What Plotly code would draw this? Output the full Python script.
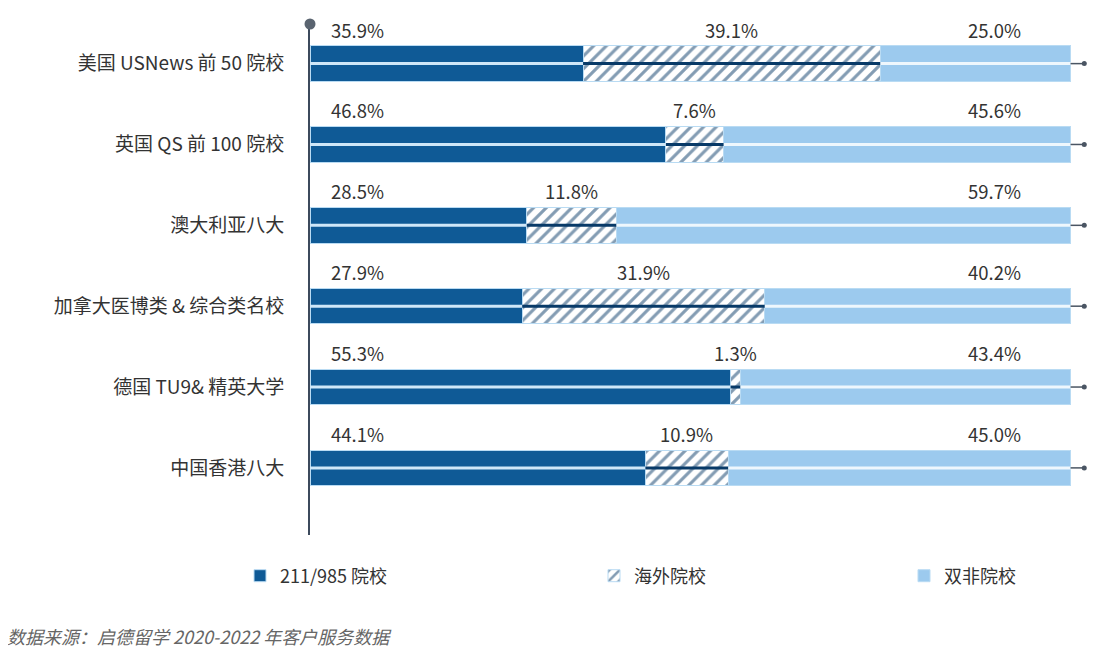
import plotly.graph_objects as go

# data
categories = ["美国 USNews 前 50 院校", "英国 QS 前 100 院校", "澳大利亚八大",
              "加拿大医博类 & 综合类名校", "德国 TU9& 精英大学", "中国香港八大"]
series_names = ["211/985 院校", "海外院校", "双非院校"]
top_schools = [35.9, 46.8, 28.5, 27.9, 55.3, 44.1]
overseas = [39.1, 7.6, 11.8, 31.9, 1.3, 10.9]
non_top = [25.0, 45.6, 59.7, 40.2, 43.4, 45.0]
source_note = "数据来源：启德留学 2020-2022 年客户服务数据"

DARK = "#0f5a96"
LIGHT = "#9ccaee"
HATCH = "#083a68"
AXIS = "#3c4a5c"
TEXT = "#333333"
FONT = "Noto Sans CJK SC"

# the page body has an 8px margin, so the figure is shifted by that much
OFF = 8
W, H = 1110 - OFF, 666 - OFF
L, R, T, B = 310 - OFF, 9, 24 - OFF, 131
PW, PH = W - L - R, H - T - B

fig = go.Figure()

# stacked bars
fig.add_trace(go.Bar(
    y=categories, x=top_schools, orientation="h", name=series_names[0], width=0.44,
    marker=dict(color=DARK, line=dict(color="#b9dbf3", width=1))))
fig.add_trace(go.Bar(
    y=categories, x=overseas, orientation="h", name=series_names[1], width=0.44,
    marker=dict(color="white", line=dict(color="#b9dbf3", width=1),
                pattern=dict(shape="/", fgcolor=HATCH, bgcolor="white", size=9, solidity=0.35))))
fig.add_trace(go.Bar(
    y=categories, x=non_top, orientation="h", name=series_names[2], width=0.44,
    legend="legend2",
    marker=dict(color=LIGHT, line=dict(color="#b9dbf3", width=1))))

# middle line running through each bar, coloured per segment
seg_colors = ["#cfe7f8", HATCH, "#eef7fd"]
all_series = [top_schools, overseas, non_top]
for k, vals in enumerate(all_series):
    xs, ys = [], []
    for i, cat in enumerate(categories):
        start = sum(s[i] for s in all_series[:k])
        xs += [start, start + vals[i], None]
        ys += [cat, cat, None]
    fig.add_trace(go.Scatter(x=xs, y=ys, mode="lines", line=dict(color=seg_colors[k], width=3),
                             showlegend=False, hoverinfo="skip"))

# tail with dot at the end of each bar
totals = [a + b + c for a, b, c in zip(top_schools, overseas, non_top)]
tx, ty = [], []
for cat, t in zip(categories, totals):
    tx += [t, t + 1.8, None]
    ty += [cat, cat, None]
fig.add_trace(go.Scatter(x=tx, y=ty, mode="lines", line=dict(color="#4a5563", width=1.5),
                         showlegend=False, hoverinfo="skip"))
fig.add_trace(go.Scatter(x=[t + 1.8 for t in totals], y=categories, mode="markers",
                         marker=dict(color="#4a5563", size=5), showlegend=False,
                         hoverinfo="skip", cliponaxis=False))

# dot on top of the axis
fig.add_shape(type="circle", xref="paper", yref="paper", xsizemode="pixel", ysizemode="pixel",
              xanchor=0, yanchor=1, x0=-5.5, x1=5.5, y0=-5.5, y1=5.5,
              fillcolor="#5a6470", line=dict(width=0))

# value labels above bars
annotations = []
for i, cat in enumerate(categories):
    lab = dict(y=cat, yshift=34, showarrow=False, font=dict(size=18.5, color=TEXT, family=FONT))
    annotations.append(dict(lab, x=0, xanchor="left", xshift=19, text=f"{top_schools[i]:.1f}%"))
    annotations.append(dict(lab, x=top_schools[i] + overseas[i] / 2, xanchor="center",
                            text=f"{overseas[i]:.1f}%"))
    annotations.append(dict(lab, x=100, xanchor="right", xshift=-48, text=f"{non_top[i]:.1f}%"))

annotations.append(dict(text=source_note, xref="paper", yref="paper", x=(5 - 310) / PW,
                        y=(H - B - (636 - OFF)) / PH, xanchor="left", yanchor="middle",
                        showarrow=False,
                        font=dict(size=18, color="#666666", family=FONT, style="italic")))

legend_style = dict(orientation="h", xref="container", yref="container",
                    y=1 - (576 - OFF) / H, xanchor="left", yanchor="middle",
                    entrywidth=309, entrywidthmode="pixels", traceorder="normal",
                    font=dict(size=18, color=TEXT, family=FONT))

fig.update_layout(
    width=W, height=H,
    barmode="stack",
    plot_bgcolor="white", paper_bgcolor="white",
    margin=dict(l=L, r=R, t=T, b=B),
    font=dict(family=FONT, size=16, color=TEXT),
    annotations=annotations,
    showlegend=True,
    legend=dict(legend_style, x=(240 - OFF) / W),
    legend2=dict(legend_style, x=(904 - OFF) / W),
    xaxis=dict(range=[0, 104], showgrid=False, zeroline=False, showticklabels=False,
               showline=False),
    yaxis=dict(range=[5.83, -0.49], categoryorder="array", categoryarray=categories,
               showgrid=False, zeroline=False, showline=True,
               linecolor=AXIS, linewidth=2, ticks="", ticklabelstandoff=20,
               tickfont=dict(size=19, color=TEXT, family=FONT)),
)

fig.write_html("out.html")
